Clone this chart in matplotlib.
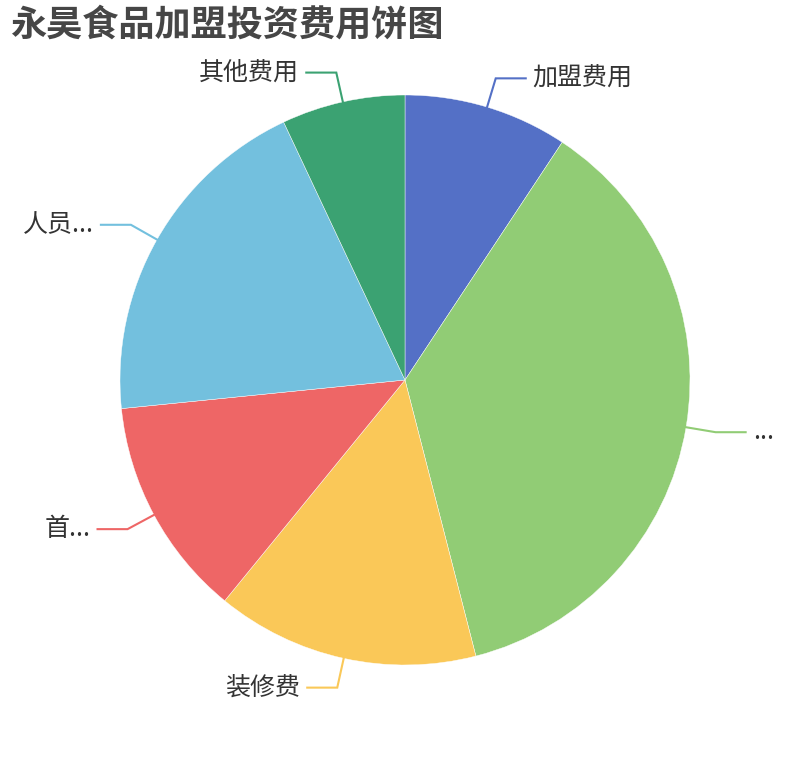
import numpy as np
import matplotlib
matplotlib.use("Agg")
import matplotlib.pyplot as plt

plt.rcParams['font.family'] = ['Noto Sans CJK SC', 'DejaVu Sans']

title = "永昊食品加盟投资费用饼图"
labels = ["加盟费用", "...", "装修费", "首...", "人员...", "其他费用"]
values = [9.3, 36.7, 14.9, 12.5, 19.6, 7.0]
colors = ["#5470c6", "#91cc75", "#fac858", "#ee6666", "#73c0de", "#3ba272"]

W, H = 810, 760
fig = plt.figure(figsize=(W / 100, H / 100), dpi=100)
ax = fig.add_axes([0, 0, 1, 1])
cx, cy, R = 405, H - 380, 285
wedges, _ = ax.pie(values, colors=colors, startangle=90, counterclock=False,
                   center=(cx, cy), radius=R, frame=True,
                   wedgeprops=dict(linewidth=0.3, edgecolor="white"))
ax.set_xlim(0, W)
ax.set_ylim(0, H)
ax.set_aspect('equal')
ax.axis('off')

L1, L2, gap = 30, 30, 7
for w, lab, col in zip(wedges, labels, colors):
    mid = np.deg2rad((w.theta1 + w.theta2) / 2)
    dx, dy = np.cos(mid), np.sin(mid)
    p0 = (cx + R * dx, cy + R * dy)
    p1 = (cx + (R + L1) * dx, cy + (R + L1) * dy)
    side = 1 if dx >= 0 else -1
    p2 = (p1[0] + side * L2, p1[1])
    ax.plot([p0[0], p1[0], p2[0]], [p0[1], p1[1], p2[1]], color=col, lw=1.5,
            solid_joinstyle='miter')
    ax.text(p2[0] + side * gap, p2[1], lab, ha='left' if side > 0 else 'right',
            va='center', fontsize=18, color="#333333")

fig.text(10 / W, 1 - 25 / H, title, fontsize=26, fontweight='bold',
         color="#464646", ha='left', va='center')

fig.savefig("out.png", dpi=100)
